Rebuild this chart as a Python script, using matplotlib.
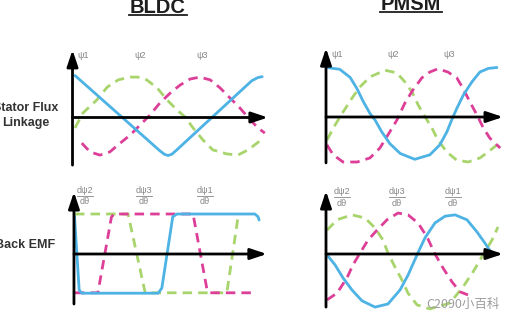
import matplotlib
matplotlib.use("Agg")
import matplotlib.pyplot as plt
from matplotlib.lines import Line2D

# ------------------------------------------------------------
# Values (electrical angle in degrees,
# amplitude in per-unit). One set of arrays per panel.
# ------------------------------------------------------------

# BLDC stator flux linkage
bldc_psi1_deg = [0, 163, 172, 179, 186, 194, 340, 352, 360]
bldc_psi1 = [1.05, -0.83, -0.92, -0.95, -0.92, -0.83, 0.92, 1.0, 1.02]
bldc_psi2_deg = [0, 15, 42, 62, 83, 106, 121, 138, 158, 177, 196, 212, 227,
                 246, 265, 292, 313, 333, 350, 362]
bldc_psi2 = [-0.26, 0.11, 0.44, 0.76, 0.94, 1.01, 1.01, 0.94, 0.74, 0.44,
             0.19, 0.01, -0.26, -0.56, -0.81, -0.91, -0.94, -0.81, -0.64, -0.51]
bldc_psi3_deg = [13, 29, 48, 67, 87, 106, 125, 144, 163, 183, 202, 221, 240,
                 260, 279, 298, 317, 337, 352, 365]
bldc_psi3 = [-0.64, -0.86, -0.94, -0.86, -0.64, -0.44, -0.19, 0.06, 0.36,
             0.61, 0.81, 0.96, 1.01, 0.94, 0.74, 0.49, 0.24, -0.06, -0.26, -0.39]

# BLDC back EMF
bldc_emf1_deg = [-1, 8, 13, 160, 167, 188, 196, 346, 352, 354]
bldc_emf1 = [0.95, -0.9, -0.98, -0.98, -0.85, 0.93, 1.0, 1.0, 0.93, 0.85]
bldc_emf2_deg = [0, 102, 135, 292, 313]
bldc_emf2 = [1.0, 1.0, -0.97, -0.97, 0.88]
bldc_emf3_deg = [0, 44, 70, 75, 227, 254, 260, 350]
bldc_emf3 = [-0.97, -0.97, 0.92, 1.0, 1.0, -0.9, -0.97, -0.97]

# PMSM stator flux linkage
pmsm_psi1_deg = [0, 27, 49, 63, 77, 91, 102, 116, 133, 155, 186, 218, 239,
                 254, 264, 275, 289, 307, 324, 342, 360]
pmsm_psi1 = [1.1, 1.06, 0.88, 0.64, 0.34, 0.08, -0.07, -0.33, -0.59, -0.81,
             -0.94, -0.84, -0.62, -0.33, -0.07, 0.19, 0.49, 0.78, 1.0, 1.08, 1.1]
pmsm_psi2_deg = [0, 17, 34, 53, 70, 91, 123, 148, 165, 180, 193, 208, 222,
                 235, 254, 275, 299, 324, 341, 360]
pmsm_psi2 = [-0.51, -0.18, 0.11, 0.42, 0.67, 0.89, 1.04, 0.98, 0.78, 0.56,
             0.27, 0.0, -0.24, -0.51, -0.78, -0.96, -1.0, -0.91, -0.78, -0.62]
pmsm_psi3_deg = [0, 13, 34, 64, 91, 112, 129, 148, 165, 182, 201, 218, 235,
                 256, 275, 288, 303, 318, 331, 345, 367]
pmsm_psi3 = [-0.62, -0.84, -1.0, -1.0, -0.91, -0.69, -0.4, -0.07, 0.31, 0.6,
             0.87, 1.0, 1.07, 1.0, 0.87, 0.64, 0.33, 0.04, -0.24, -0.47, -0.69]

# PMSM back EMF
pmsm_emf1_deg = [0, 16, 32, 50, 70, 96, 122, 146, 162, 180, 196, 216, 236,
                 256, 280, 300, 316, 328]
pmsm_emf1 = [-0.02, -0.24, -0.53, -0.8, -1.04, -1.18, -1.11, -0.8, -0.47,
             -0.02, 0.36, 0.69, 0.84, 0.87, 0.76, 0.49, 0.24, 0.04]
pmsm_emf2_deg = [0, 20, 50, 76, 96, 112, 122, 136, 150, 162, 180, 206, 246,
                 272, 292, 312, 330, 342]
pmsm_emf2 = [0.53, 0.76, 0.87, 0.8, 0.58, 0.31, 0.02, -0.29, -0.58, -0.87,
             -1.13, -1.22, -1.09, -0.73, -0.4, -0.02, 0.31, 0.6]
pmsm_emf3_deg = [0, 20, 40, 52, 66, 82, 100, 120, 142, 162, 182, 200, 216,
                 232, 250, 266, 282]
pmsm_emf3 = [-1.02, -0.87, -0.53, -0.24, 0.02, 0.31, 0.53, 0.76, 0.91, 0.87,
             0.69, 0.38, 0.0, -0.31, -0.62, -0.84, -0.91]

flux_labels = ["ψ1", "ψ2", "ψ3"]
emf_labels = ["dψ2", "dψ3", "dψ1"]
emf_denominator = "dθ"

BLUE = "#4db2e4"
GREEN = "#a8d46c"
MAGENTA = "#dd3f98"

W, H = 508, 317
FONT = "Liberation Sans"

fig = plt.figure(figsize=(W / 100, H / 100), dpi=100)
fig.patch.set_facecolor("white")


def make_panel(box, x0px, xscale, y0px, yscale):
    """Axes placed by pixel box; data units are degrees / per-unit."""
    left, right, top, bottom = box
    ax = fig.add_axes([left / W, 1 - bottom / H,
                       (right - left) / W, (bottom - top) / H])
    ax.set_xlim((left - x0px) / xscale, (right - x0px) / xscale)
    ax.set_ylim((y0px - bottom) / yscale, (y0px - top) / yscale)
    ax.axis("off")
    return ax


def draw_axes(ax, xa, ybot, ytop, xend):
    style = dict(arrowstyle="-|>,head_length=0.9,head_width=0.3",
                 lw=2.0, color="black", mutation_scale=11,
                 shrinkA=0, shrinkB=0)
    ax.annotate("", xy=(xa, ytop), xytext=(xa, ybot),
                arrowprops=style, zorder=5)
    ax.annotate("", xy=(xend, 0), xytext=(xa, 0),
                arrowprops=style, zorder=5)


def draw_curves(ax, blue, green, magenta):
    ax.plot(*blue, color=BLUE, lw=2.0, solid_capstyle="round",
            solid_joinstyle="round", zorder=3)
    ax.plot(*green, color=GREEN, lw=2.0, dashes=(3.4, 2.2), zorder=2)
    ax.plot(*magenta, color=MAGENTA, lw=2.0, dashes=(3.4, 2.2), zorder=2)


# -------------------- panels --------------------
ax_tl = make_panel((60, 275, 45, 170), 75, 0.52, 117.5, 40)
draw_curves(ax_tl, (bldc_psi1_deg, bldc_psi1), (bldc_psi2_deg, bldc_psi2),
            (bldc_psi3_deg, bldc_psi3))
draw_axes(ax_tl, -4.8, -1.19, 1.69, 371)

ax_tr = make_panel((315, 508, 42, 170), 327, 0.472, 117, 45)
draw_curves(ax_tr, (pmsm_psi1_deg, pmsm_psi1), (pmsm_psi2_deg, pmsm_psi2),
            (pmsm_psi3_deg, pmsm_psi3))
draw_axes(ax_tr, -2.1, -1.02, 1.53, 373)

ax_bl = make_panel((60, 275, 185, 310), 75, 0.52, 254, 40)
draw_curves(ax_bl, (bldc_emf1_deg, bldc_emf1), (bldc_emf2_deg, bldc_emf2),
            (bldc_emf3_deg, bldc_emf3))
draw_axes(ax_bl, -2.0, -1.25, 1.55, 369)

ax_br = make_panel((315, 508, 185, 317), 327, 0.5, 254, 45)
draw_curves(ax_br, (pmsm_emf1_deg, pmsm_emf1), (pmsm_emf2_deg, pmsm_emf2),
            (pmsm_emf3_deg, pmsm_emf3))
draw_axes(ax_br, -2.0, -1.18, 1.4, 352)

# -------------------- curve labels --------------------
GREY = "#858585"
label_style = dict(ha="center", va="center", color=GREY,
                   fontsize=6.5, family=FONT)
for ax, xs, y in [(ax_tl, [15, 125, 244], 1.56),
                  (ax_tr, [21, 140, 258], 1.38)]:
    for lab, x in zip(flux_labels, xs):
        ax.text(x, y, lab, **label_style)

# derivative labels: numerator over denominator with a small bar
frac_parts = []
for ax, xs, ynum, yden in [(ax_bl, [19, 133, 250], 1.58, 1.31),
                           (ax_br, [30, 140, 252], 1.38, 1.13)]:
    for lab, x in zip(emf_labels, xs):
        tn = ax.text(x, ynum, lab, **label_style)
        ax.text(x, yden, emf_denominator, **label_style)
        frac_parts.append((ax, tn))

# -------------------- row labels --------------------
row_style = dict(ha="center", va="center", fontsize=9, weight="bold",
                 color="#333333", family=FONT)
fig.text(25.5 / W, 1 - 108 / H, "Stator Flux", **row_style)
fig.text(25.5 / W, 1 - 123 / H, "Linkage", **row_style)
fig.text(25.5 / W, 1 - 245 / H, "Back EMF", **row_style)

# -------------------- titles (underlined) --------------------
titles = []
for x, base, name in [(158, 13, "BLDC"), (411, 9.5, "PMSM")]:
    t = fig.text(x / W, 1 - base / H, name, ha="center", va="baseline",
                 fontsize=14.5, weight="bold", color="#1e1e1e", family=FONT)
    titles.append((t, base))

fig.canvas.draw()
renderer = fig.canvas.get_renderer()
inv = fig.transFigure.inverted()
for t, base in titles:
    bb = t.get_window_extent(renderer)
    uy = 1 - (base + 2.3) / H
    fig.add_artist(Line2D([(bb.x0 - 1) / W, (bb.x1 + 1) / W], [uy, uy],
                          transform=fig.transFigure, color="#1e1e1e", lw=1.3))

for ax, tn in frac_parts:
    bb = tn.get_window_extent(renderer)
    (x0, y0), (x1, _) = inv.transform([(bb.x0, bb.y0), (bb.x1, bb.y0)])
    fig.add_artist(Line2D([x0, x1], [y0 - 0.2 / H, y0 - 0.2 / H],
                          transform=fig.transFigure, color=GREY, lw=0.6))

# -------------------- watermark --------------------
fig.text(463 / W, 1 - 304 / H, "C2090小百科", ha="center", va="center",
         fontsize=9, color="#9c9c9c",
         family=["Noto Sans CJK SC", "DejaVu Sans"])

fig.savefig("out.png", dpi=100, facecolor="white")
